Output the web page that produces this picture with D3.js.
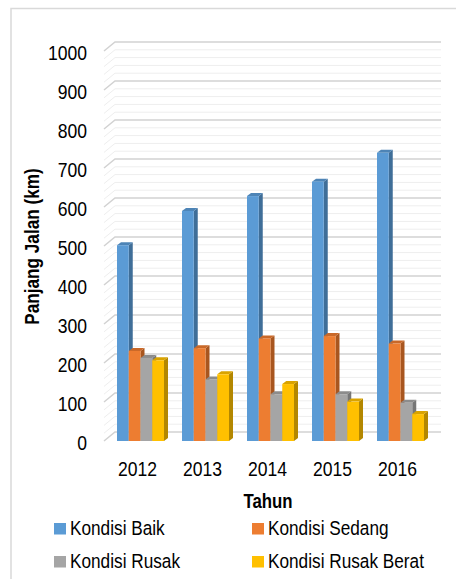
<!DOCTYPE html>
<meta charset="utf-8">
<style>
  body { margin: 0; background: #fff; }
  text { font-family: "Liberation Sans", Arial, sans-serif; fill: #000; }
</style>
<svg width="456" height="579"></svg>
<script src="https://cdnjs.cloudflare.com/ajax/libs/d3/7.8.5/d3.min.js"></script>
<script>
  var years = ["2012", "2013", "2014", "2015", "2016"]
  var series = ["Kondisi Baik", "Kondisi Sedang", "Kondisi Rusak", "Kondisi Rusak Berat"]
  var baik = [502, 590, 628, 665, 739]
  var sedang = [231, 238, 263, 269, 250]
  var rusak = [213, 158, 120, 120, 98]
  var rusakBerat = [207, 171, 146, 101, 69]
  var yTicks = [0, 100, 200, 300, 400, 500, 600, 700, 800, 900, 1000]

  var values = [baik, sedang, rusak, rusakBerat]
  var front = ["#5b9bd5", "#ed7d31", "#a5a5a5", "#ffc000"]
  var side = ["#3f6e98", "#a8561f", "#767676", "#b38700"]
  var top_ = ["#4d84b6", "#c96828", "#8c8c8c", "#d9a300"]

  var svg = d3.select("svg")

  // chart border (top and left visible)
  svg.append("path")
    .attr("d", "M11,579V8.5H456")
    .attr("fill", "none").attr("stroke", "#d9d9d9").attr("stroke-width", 1.5)

  var y = d3.scaleLinear().domain([0, 1000]).range([441, 51])
  var x0 = d3.scaleBand().domain(years).range([104, 429])
  var x1 = d3.scaleBand().domain(series).range([13, 60])

  var wallDx = 11, wallDy = -9, wallRight = 441
  var barDx = 4, barDy = -3

  // condensed-looking text: scale glyphs horizontally
  function narrow(sel, x, yy, sx) {
    sel.attr("x", 0).attr("y", 0).attr("dy", null)
      .attr("transform", "translate(" + x + "," + yy + ") scale(" + sx + ",1)")
  }

  // back wall gridlines, every 20 minor, every 100 major
  var grid = d3.range(0, 1001, 20)
  var g = svg.append("g")
  grid.forEach(function (v) {
    var major = v % 100 === 0
    var yy = y(v)
    g.append("path")
      .attr("d", "M" + 104 + "," + yy + "L" + (104 + wallDx) + "," + (yy + wallDy) + "H" + wallRight)
      .attr("fill", "none")
      .attr("stroke", major ? "#d2d2d2" : "#eeeeee")
      .attr("stroke-width", major ? 1.5 : 1)
  })

  // y axis labels
  svg.append("g")
    .attr("transform", "translate(104,0)")
    .call(d3.axisLeft(y).tickValues(yTicks).tickSize(0).tickFormat(d3.format("d")))
    .call(s => s.select(".domain").remove())
    .selectAll("text")
    .style("font-size", "19.5px")
    .each(function () { narrow(d3.select(this), -17, 8.3, 0.9) })

  // bars
  var bars = svg.append("g")
  years.forEach(function (yr, i) {
    series.forEach(function (s, j) {
      var v = values[j][i]
      var bx = x0(yr) + x1(s), w = x1.bandwidth()
      var yt = y(v), yb = y(0)
      bars.append("path")
        .attr("d", "M" + (bx + w) + "," + yt + "L" + (bx + w + barDx) + "," + (yt + barDy) +
          "V" + (yb + barDy) + "L" + (bx + w) + "," + yb + "Z")
        .attr("fill", side[j])
      bars.append("path")
        .attr("d", "M" + bx + "," + yt + "L" + (bx + w) + "," + yt + "L" + (bx + w + barDx) + "," + (yt + barDy) +
          "L" + (bx + barDx) + "," + (yt + barDy) + "Z")
        .attr("fill", top_[j])
      bars.append("rect")
        .attr("x", bx).attr("y", yt).attr("width", w).attr("height", yb - yt)
        .attr("fill", front[j])
    })
  })

  // x axis labels
  svg.append("g")
    .attr("transform", "translate(0,441)")
    .call(d3.axisBottom(x0).tickSize(0))
    .call(s => s.select(".domain").remove())
    .selectAll("text")
    .style("font-size", "19.5px")
    .each(function () { narrow(d3.select(this), 1, 35, 0.9) })

  // axis titles
  svg.append("text")
    .attr("text-anchor", "middle")
    .style("font-size", "21px").style("font-weight", "bold")
    .text("Tahun")
    .call(narrow, 268, 508, 0.8)

  svg.append("text")
    .attr("text-anchor", "middle")
    .style("font-size", "19.5px").style("font-weight", "bold")
    .text("Panjang Jalan (km)")
    .attr("transform", "translate(39,246.5) rotate(-90) scale(0.88,1)")

  // legend
  var legendPos = [[54, 535], [252, 535], [54, 568], [252, 568]]
  var legend = svg.append("g")
  series.forEach(function (s, j) {
    var p = legendPos[j]
    legend.append("rect")
      .attr("x", p[0]).attr("y", p[1] - 12).attr("width", 12).attr("height", 11.5)
      .attr("fill", front[j])
    legend.append("text")
      .style("font-size", "20.5px")
      .text(s)
      .call(narrow, p[0] + 16, p[1], 0.84)
  })
</script>
